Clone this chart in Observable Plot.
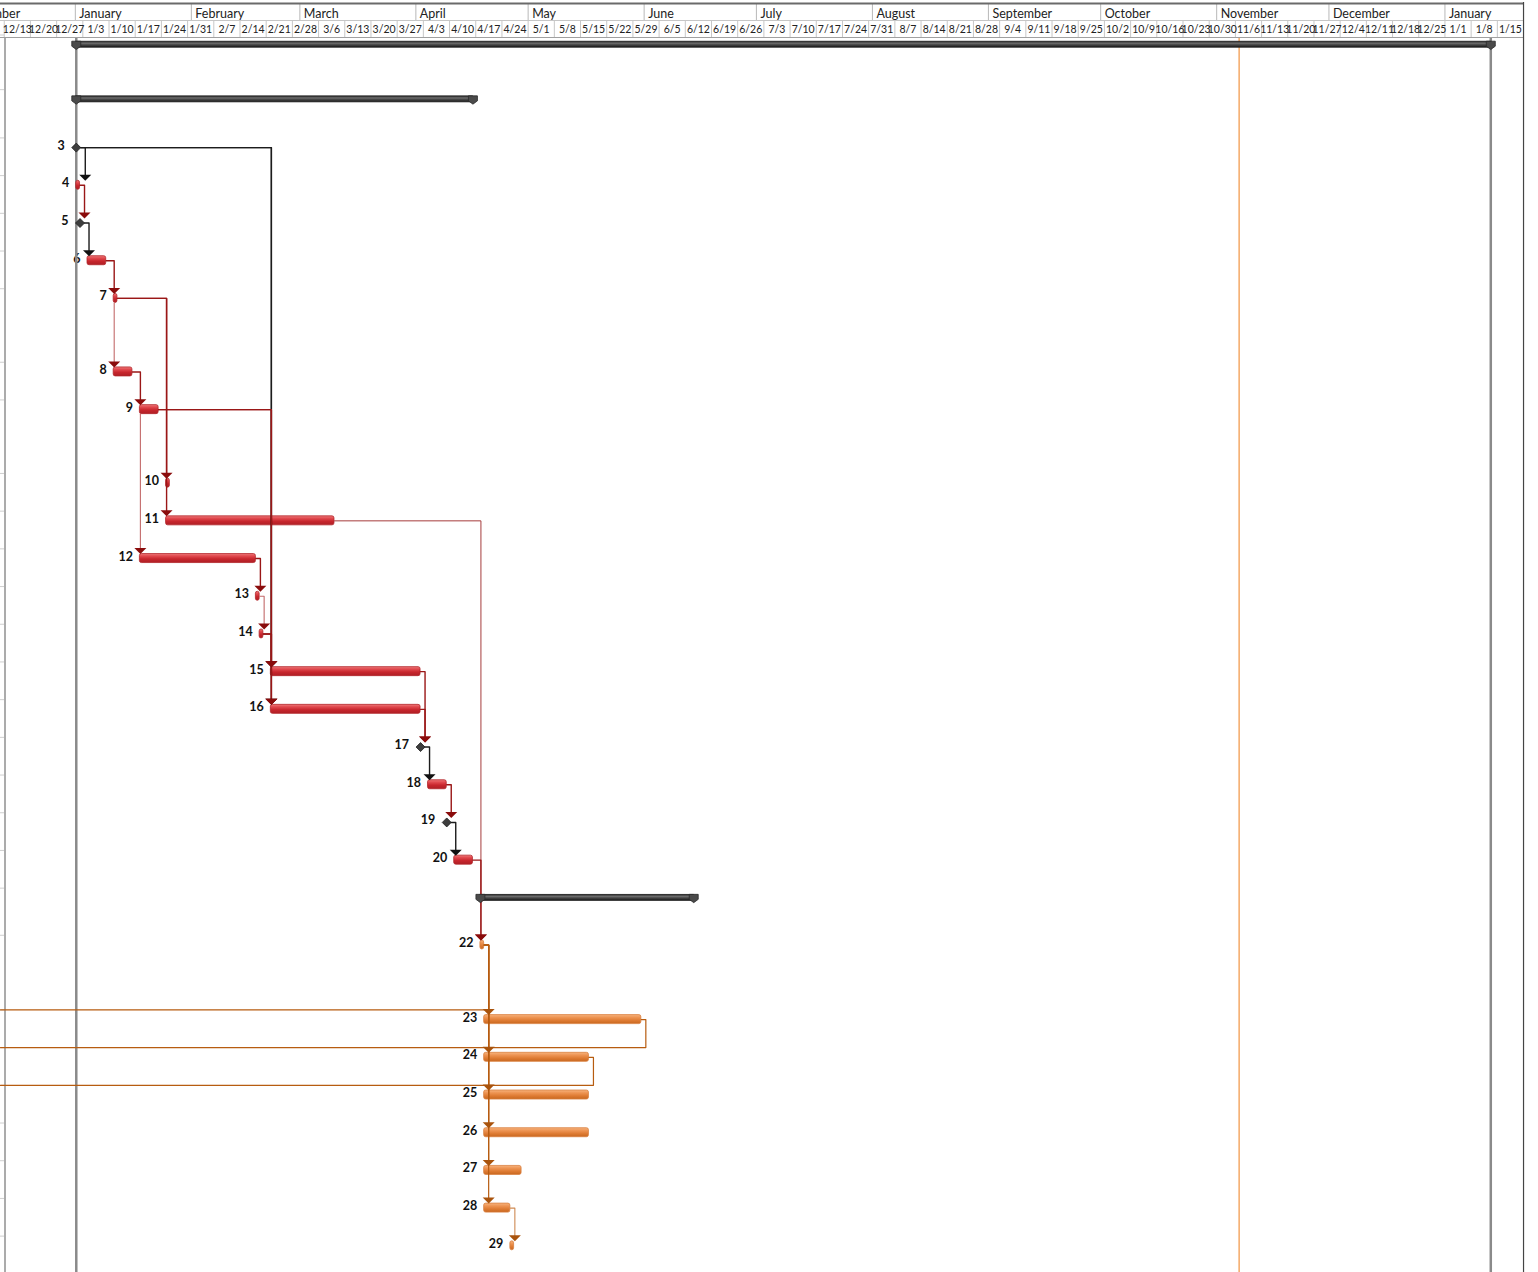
<!DOCTYPE html>
<html>
<head>
<meta charset="utf-8">
<script src="https://cdn.jsdelivr.net/npm/d3@7"></script>
<script src="https://cdn.jsdelivr.net/npm/@observablehq/plot@0.6"></script>
<style>
  body { margin: 0; background: #fff; }
  svg { display: block; }
</style>
</head>
<body>
<div id="chart"></div>
<script>
// ---------------- DATA ----------------
const taskIds = [1,2,3,4,5,6,7,8,9,10,11,12,13,14,15,16,17,18,19,20,21,22,23,24,25,26,27,28,29];
const taskKinds = ["summary","summary","milestone","task","milestone","task","task","task","task","task",
  "task","task","task","task","task","task","milestone","task","milestone","task",
  "summary","task","task","task","task","task","task","task","task"];
const taskStarts = ["2016-01-01","2016-01-01","2016-01-01","2016-01-01","2016-01-02","2016-01-04","2016-01-11","2016-01-11","2016-01-18","2016-01-25",
  "2016-01-25","2016-01-18","2016-02-18","2016-02-19","2016-02-22","2016-02-22","2016-04-02","2016-04-04","2016-04-09","2016-04-11",
  "2016-04-18","2016-04-18","2016-04-19","2016-04-19","2016-04-19","2016-04-19","2016-04-19","2016-04-19","2016-04-26"];
const taskFinishes = ["2017-01-12","2016-04-15","2016-01-01","2016-01-01","2016-01-02","2016-01-08","2016-01-11","2016-01-15","2016-01-22","2016-01-25",
  "2016-03-09","2016-02-17","2016-02-18","2016-02-19","2016-04-01","2016-04-01","2016-04-02","2016-04-08","2016-04-09","2016-04-15",
  "2016-06-13","2016-04-18","2016-05-30","2016-05-16","2016-05-16","2016-05-16","2016-04-28","2016-04-25","2016-04-26"];
const taskGroups = ["sum","sum","ms","crit","ms","crit","crit","crit","crit","crit",
  "crit","crit","crit","crit","crit","crit","ms","crit","ms","crit",
  "sum","norm","norm","norm","norm","norm","norm","norm","norm"];
// table row heights, in standard rows
const rowHeights = [1.45,1.28,1,1,1,1,1.95,1,1.95,1,1,1,1,1,1,1,1,1,1,1,1.25,1.98,1,1,1,1,1,1,1];

// finish-to-start links [from, to, style]
const fsLinks = [
  [3,4,"black"],[5,6,"black"],[3,15,"black"],[3,16,"black"],[17,18,"black"],[19,20,"black"],
  [13,14,"critLight"],[11,22,"critThin"],
  [4,5,"crit"],[6,7,"crit"],[7,10,"crit"],[7,11,"crit"],[8,9,"crit"],[9,15,"crit"],[9,16,"crit"],
  [12,13,"crit"],[14,15,"crit"],[14,16,"crit"],[15,17,"crit"],[16,17,"crit"],[18,19,"crit"],[20,22,"crit"],
  [22,23,"orange"],[22,24,"orange"],[22,25,"orange"],[22,26,"orange"],[22,27,"orange"],[22,28,"orange"],[28,29,"orangeLight"]
];
// start-to-start links
const ssLinks = [[7,8,"critLight"],[9,12,"critLight"]];
// links to / from tasks outside the view
const extOutLinks = [[23,"orange"],[24,"orange"]];
const extInLinks = [[23,"orange"]];

const monthStarts = ["2015-12-01","2016-01-01","2016-02-01","2016-03-01","2016-04-01","2016-05-01","2016-06-01",
  "2016-07-01","2016-08-01","2016-09-01","2016-10-01","2016-11-01","2016-12-01","2017-01-01"];
const monthLabels = ["December","January","February","March","April","May","June",
  "July","August","September","October","November","December","January"];
const weekFirst = "2015-12-13", weekLast = "2017-01-15";
const statusDate = "2016-11-07";
const viewStart = "2015-12-12", viewEnd = "2017-01-26", viewBorder = "2017-01-22";

// ---------------- LAYOUT ----------------
const W = 1538, H = 1272, U = 37.7;
const D = s => new Date(s + "T00:00:00Z");
const addDays = (d, n) => new Date(+d + n * 864e5);
const d0 = D(viewStart), d1 = D(viewEnd), dB = D(viewBorder);
const pxDay = W / ((d1 - d0) / 864e5);
const shiftPx = (d, px) => addDays(d, px / pxDay);
const u = px => px / U;
const maxDate = (a, b) => (+a > +b ? a : b);

let cursor = u(34.5);
const tasks = taskIds.map((id, i) => {
  const kind = taskKinds[i];
  const top = cursor;
  cursor += rowHeights[i];
  const x1 = addDays(D(taskStarts[i]), 0.25);
  const x2 = kind === "milestone" ? x1 : addDays(D(taskFinishes[i]), 1.25);
  return {id, kind, group: taskGroups[i], top, bottom: top + rowHeights[i], y: top + u(9.7), x1, x2};
});
const byId = new Map(tasks.map(t => [t.id, t]));
const rowTops = tasks.map(t => t.top).concat([cursor]);

const linkPts = [], arrows = [];
let lid = 0;
fsLinks.forEach(([a, b, c]) => {
  const p = byId.get(a), s = byId.get(b);
  const px0 = p.kind === "milestone" ? shiftPx(p.x2, 4.5) : p.x2;
  const ax = maxDate(shiftPx(px0, 4.5), shiftPx(s.x1, 0.5));
  const tip = s.y - u(4.5);
  const id = lid++;
  linkPts.push({id, c, x: px0, y: p.y}, {id, c, x: ax, y: p.y}, {id, c, x: ax, y: tip - u(5)});
  arrows.push({x: ax, y: tip, c});
});
ssLinks.forEach(([a, b, c]) => {
  const p = byId.get(a), s = byId.get(b);
  const ax = shiftPx(s.x1, 0.5);
  const tip = s.y - u(4.5);
  const id = lid++;
  linkPts.push({id, c, x: ax, y: p.y + u(4.5)}, {id, c, x: ax, y: tip - u(5)});
  arrows.push({x: ax, y: tip, c});
});
extOutLinks.forEach(([a, c]) => {
  const p = byId.get(a);
  const xa = shiftPx(p.x2, 4.5);
  const id = lid++;
  linkPts.push({id, c, x: p.x2, y: p.y}, {id, c, x: xa, y: p.y}, {id, c, x: xa, y: p.bottom}, {id, c, x: d0, y: p.bottom});
});
extInLinks.forEach(([b, c]) => {
  const s = byId.get(b);
  const ax = shiftPx(s.x1, 4.5);
  const id = lid++;
  linkPts.push({id, c, x: d0, y: s.top}, {id, c, x: ax, y: s.top});
});

const linkColors = {black: "#1c1c1c", critLight: "#c36a6a", critThin: "#a53b3b", crit: "#9a1717", orange: "#b75c10", orangeLight: "#cf8a52"};
const linkWidths = {black: 1.4, critLight: 1.1, critThin: 1, crit: 1.4, orange: 1.2, orangeLight: 1.1};
const arrowColors = {black: "#111111", critLight: "#8a0c0c", critThin: "#8a0c0c", crit: "#8a0c0c", orange: "#a9530c", orangeLight: "#a9530c"};

const arrowSym = {draw(ctx) { ctx.moveTo(-6, -6); ctx.lineTo(6, -6); ctx.lineTo(0, 0); ctx.closePath(); }};
const diamondSym = {draw(ctx) { ctx.moveTo(0, -4.5); ctx.lineTo(4.5, 0); ctx.lineTo(0, 4.5); ctx.lineTo(-4.5, 0); ctx.closePath(); }};
const capSym = {draw(ctx) { ctx.moveTo(-4.5, -3.5); ctx.lineTo(4.5, -3.5); ctx.lineTo(4.5, 1.5); ctx.lineTo(0, 4.8); ctx.lineTo(-4.5, 1.5); ctx.closePath(); }};

const summaries = tasks.filter(t => t.kind === "summary");
const capPts = summaries.flatMap(t => [{x: t.x1, y: t.y}, {x: t.x2, y: t.y}]);
const bars = tasks.filter(t => t.kind === "task");
const milestones = tasks.filter(t => t.kind === "milestone");
const labelled = tasks.filter(t => t.kind !== "summary");
const project = byId.get(1);

const weeks = d3.utcSunday.range(D(weekFirst), addDays(D(weekLast), 1));
const fmtWeek = d3.utcFormat("%-m/%-d");
const months = monthStarts.map((m, i) => ({x: D(m), label: monthLabels[i]}));

const headFont = "Lato, 'Open Sans', sans-serif";
const hTop = u(3), hMid = u(20), hBot = u(37), yEnd = H / U;

const marks = [
  // status line
  Plot.ruleX([D(statusDate)], {x: d => d, y1: () => hBot, y2: () => yEnd, stroke: "#f3a35c", strokeWidth: 1.4}),
  // table edge and row separators
  Plot.ruleY(rowTops, {y: d => d, x1: () => d0, x2: () => shiftPx(d0, 4), stroke: "#cfcfcf"}),
  Plot.ruleX([shiftPx(d0, 4.5)], {x: d => d, y1: () => hBot, y2: () => yEnd, stroke: "#8f8f8f", strokeWidth: 1.5}),
  // task numbers
  Plot.text(labelled, {
    x: t => t.kind === "milestone" ? shiftPx(t.x1, -4.5) : t.x1, y: "y", text: t => String(t.id),
    textAnchor: "end", dx: -7, dy: -2, fontSize: 12.5, fontWeight: "bold", fontFamily: headFont, fill: "#111"
  }),
  // project start / finish lines
  Plot.ruleX([project.x1, project.x2], {x: d => d, y1: () => hBot, y2: () => yEnd, stroke: "#8a8a8a", strokeWidth: 2.5}),
  // summary bars
  Plot.rect(summaries, {x1: "x1", x2: "x2", y1: t => t.y - u(3), y2: t => t.y + u(3), fill: "url(#gSum)", stroke: "#1e1e1e", strokeWidth: 0.8}),
  // task bars
  Plot.rect(bars.filter(t => t.group === "crit"), {x1: "x1", x2: "x2", y1: t => t.y - u(4.5), y2: t => t.y + u(4.5), fill: "url(#gCrit)", stroke: "#b3262b", strokeWidth: 0.8, rx: 2}),
  Plot.rect(bars.filter(t => t.group === "norm"), {x1: "x1", x2: "x2", y1: t => t.y - u(4.5), y2: t => t.y + u(4.5), fill: "url(#gNorm)", stroke: "#d98040", strokeWidth: 0.8, rx: 2}),
  // milestones
  Plot.dot(milestones, {x: "x1", y: "y", symbol: diamondSym, fill: "#3d3d3d", stroke: "#1e1e1e", strokeWidth: 0.8}),
  // links
  ...["black", "critLight", "critThin", "crit", "orange", "orangeLight"].map(c =>
    Plot.line(linkPts.filter(d => d.c === c), {x: "x", y: "y", z: "id", stroke: linkColors[c], strokeWidth: linkWidths[c], curve: "linear"})
  ),
  Plot.dot(arrows, {x: "x", y: "y", symbol: arrowSym, fill: d => arrowColors[d.c], stroke: "none"}),
  // summary caps
  Plot.dot(capPts, {x: "x", y: "y", symbol: capSym, fill: "#4a4a4a", stroke: "#2a2a2a", strokeWidth: 0.8}),
  // -------- header --------
  Plot.ruleX(months, {x: "x", y1: () => hTop, y2: () => hMid, stroke: "#b8b8b8"}),
  Plot.ruleX(weeks, {x: d => d, y1: () => hMid, y2: () => hBot, stroke: "#c8c8c8"}),
  Plot.ruleY([hMid], {y: d => d, x1: () => d0, x2: () => dB, stroke: "#c6c6c6"}),
  Plot.ruleY([hBot], {y: d => d, x1: () => d0, x2: () => dB, stroke: "#a0a0a0"}),
  Plot.ruleY([hTop], {y: d => d, x1: () => d0, x2: () => dB, stroke: "#6a6a6a", strokeWidth: 2}),
  Plot.ruleX([dB], {x: d => d, y1: () => u(2), y2: () => yEnd, stroke: "#444", strokeWidth: 1.2}),
  Plot.text(months, {x: "x", y: () => u(13.5), text: "label", dx: 4, textAnchor: "start", fontSize: 12.5, fontFamily: headFont, fill: "#222"}),
  Plot.text(weeks, {x: d => addDays(d, 3.5), y: () => u(29), text: d => fmtWeek(d), textAnchor: "middle", fontSize: 10.5, fontFamily: headFont, fill: "#222", ariaLabel: "week-labels"})
];

const svg = Plot.plot({
  width: W, height: H,
  margin: 0,
  x: {type: "utc", domain: [d0, d1], range: [0, W], axis: null},
  y: {type: "linear", domain: [0, yEnd], range: [0, H], axis: null},
  color: {type: "identity"},
  style: {background: "#fff"},
  marks
});

// tighten the week labels so each fits its cell
d3.select(svg).selectAll('g[aria-label="week-labels"] text').style("letter-spacing", "-0.6px");

// gradients for bar fills
const defs = d3.select(svg).insert("defs", ":first-child");
function grad(id, stops) {
  const g = defs.append("linearGradient").attr("id", id).attr("x1", 0).attr("y1", 0).attr("x2", 0).attr("y2", 1);
  stops.forEach(([o, c]) => g.append("stop").attr("offset", o).attr("stop-color", c));
}
grad("gCrit", [[0, "#ee7d7d"], [0.25, "#e24c51"], [0.6, "#c8262d"], [1, "#ae1f25"]]);
grad("gNorm", [[0, "#f6b47f"], [0.3, "#ee9554"], [0.65, "#de7b33"], [1, "#c8671f"]]);
grad("gSum", [[0, "#2a2a2a"], [0.35, "#6c6c6c"], [0.6, "#464646"], [1, "#1a1a1a"]]);

document.getElementById("chart").appendChild(svg);
</script>
</body>
</html>
